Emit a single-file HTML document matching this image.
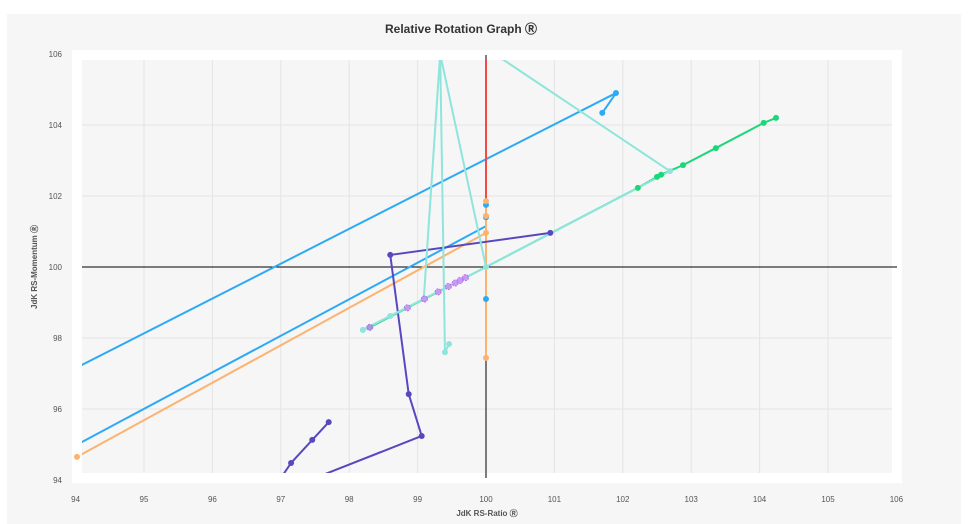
<!DOCTYPE html>
<html><head><meta charset="utf-8"><style>
body{margin:0;background:#fff;font-family:"Liberation Sans",sans-serif}
svg{display:block}
</style></head><body>
<svg id="c" width="968" height="524">
<rect x="7" y="14" width="954" height="510" fill="#f6f6f6"/>
<rect x="72" y="50" width="830" height="433" fill="#fff"/>
<rect x="82" y="60" width="810" height="413" fill="#f6f6f6"/>
<text x="461" y="33" text-anchor="middle" font-size="12" font-weight="bold" fill="#333">Relative Rotation Graph Ⓡ</text>
<text x="487" y="516" text-anchor="middle" font-size="8" font-weight="bold" fill="#555">JdK RS-Ratio Ⓡ</text>
<text transform="translate(37,267) rotate(-90)" text-anchor="middle" font-size="8" font-weight="bold" fill="#555">JdK RS-Momentum Ⓡ</text>
<g id="grid"></g><g id="ticks"></g>
<defs><clipPath id="cp"><rect x="82" y="60" width="810" height="413"/></clipPath></defs>
<g id="axes"></g>
<g id="series" clip-path="url(#cp)"></g>
<g id="marks"></g>
</svg>
<script>
const xTicks=[94,95,96,97,98,99,100,101,102,103,104,105,106];
const yTicks=[94,96,98,100,102,104,106];
const blueA=[[93.5,96.66],[101.9,104.9],[101.7,104.34]];
const blueB=[[93.5,94.46],[100,101.15],[100,101.75],[100,101.4],[100,99.1]];
const orange=[[94.02,94.65],[100,100.96],[100,101.86],[100,101.44],[100,97.44]];
const red=[[100,106.5],[100,101.9]];
const purple=[[97.7,95.63],[97.46,95.13],[97.15,94.48],[96.82,93.54],[99.06,95.24],[98.87,96.42],[98.6,100.34],[100.94,100.96]];
const teal1=[[98.2,98.23],[99.09,99.1],[99.33,106],[99.4,97.6],[99.46,97.83]];
const teal2=[[99.33,106],[100,100],[102.69,102.7],[100.05,106.1]];
const teal3=[[98.2,98.23],[98.6,98.62],[100,100]];
const green=[[98.3,98.3],[100,100],[102.22,102.23],[102.5,102.54],[102.56,102.6],[102.88,102.87],[103.36,103.35],[104.06,104.06],[104.24,104.2]];
const violet=[[98.3,98.3],[98.85,98.85],[99.1,99.1],[99.3,99.3],[99.45,99.45],[99.55,99.55],[99.62,99.62],[99.7,99.7]];
const NS="http://www.w3.org/2000/svg";
const X=v=>486+(v-100)*68.4, Y=v=>267-(v-100)*35.5;
function mk(tag,attrs,parent){const e=document.createElementNS(NS,tag);for(const k in attrs)e.setAttribute(k,attrs[k]);document.getElementById(parent).appendChild(e);return e;}
xTicks.forEach(t=>{
 if(t>94&&t<106){const l=mk('line',{x1:X(t),x2:X(t),y1:60,y2:473,stroke:'#e4e4e4'},'grid');
 
 }
 const tx=mk('text',{x:X(t),y:502,'text-anchor':'middle','font-size':'8',fill:'#555'},'ticks');tx.textContent=t;
 
 
});
yTicks.forEach(t=>{
 if(t>94&&t<106){const l=mk('line',{x1:82,x2:892,y1:Y(t),y2:Y(t),stroke:'#e4e4e4'},'grid');
 
 }
 const tx=mk('text',{x:62,y:Y(t)+3,'text-anchor':'end','font-size':'8',fill:'#555'},'ticks');tx.textContent=t;
 
 
});
const ax1=mk('line',{x1:X(100),x2:X(100),y1:55,y2:478,stroke:'#000','stroke-width':1},'axes');


const ax2=mk('line',{x1:82,x2:897,y1:Y(100),y2:Y(100),stroke:'#000','stroke-width':1},'axes');


function series(pts,color,name,markIdx){
 const p=mk('polyline',{points:pts.map(d=>X(d[0])+','+Y(d[1])).join(' '),fill:'none',stroke:color,'stroke-width':2,'stroke-linejoin':'round'},'series');
 
 
 pts.forEach((d,i)=>{ if(markIdx&&!markIdx.includes(i))return;
  const c=mk('circle',{cx:X(d[0]),cy:Y(d[1]),r:3,fill:color},'marks');
  
  
 });
}
series(blueA,'#2eaaf5','blue-a',[1,2]);
series(blueB,'#2eaaf5','blue-b',[2,3,4]);
series(red,'#f24b45','red',[]);
series(orange,'#fdb26e','orange',[0,1,2,3,4]);
series(purple,'#5748c0','purple',[0,1,2,4,5,6,7]);
series(green,'#1cd77a','green',[0,2,3,4,5,6,7,8]);
series(teal3,'#8fe5dc','teal-c',[0,1]);
series(teal1,'#8fe5dc','teal-a',[0,1,3,4]);
series(teal2,'#8fe5dc','teal-b',[1,2]);
violet.forEach(d=>{
 const c=mk('circle',{cx:X(d[0]),cy:Y(d[1]),r:3,fill:'#c98af5','fill-opacity':0.8,stroke:'#b66cf0','stroke-dasharray':'2 1'},'marks');
 
 
});
</script>
</body></html>
